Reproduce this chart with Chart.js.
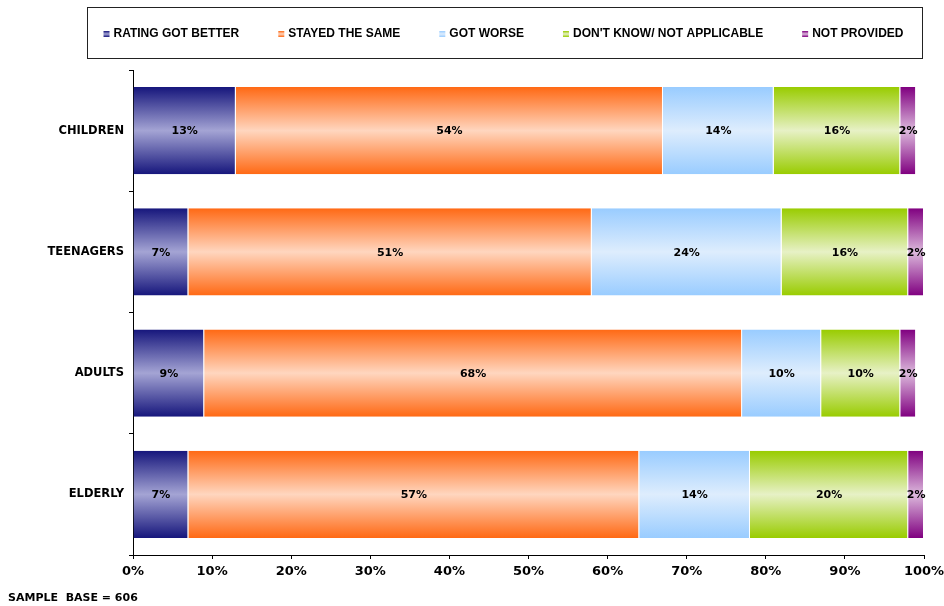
<!DOCTYPE html>
<html>
<head>
<meta charset="utf-8">
<script src="https://cdn.jsdelivr.net/npm/chart.js@4/dist/chart.umd.min.js"></script>
<style>
	body{margin:0;background:#fff;}
	#wrap{width:944px;height:606px;}
</style>
</head>
<body>
<div id="wrap"><canvas id="chart" width="944" height="606"></canvas></div>
<script>
// values (percent of respondents)
const categories = ['CHILDREN','TEENAGERS','ADULTS','ELDERLY'];
const seriesNames = ['RATING GOT BETTER','STAYED THE SAME','GOT WORSE',"DON'T KNOW/ NOT APPLICABLE",'NOT PROVIDED'];
const gotBetter = [13,7,9,7];
const stayedSame = [54,51,68,57];
const gotWorse = [14,24,10,14];
const dontKnow = [16,16,10,20];
const notProvided = [2,2,2,2];
const xTickValues = [0,10,20,30,40,50,60,70,80,90,100];

// dark edge / light middle pairs
const shades = [
	['#16167c','#a4a4d4'],
	['#ff6914','#ffd6bf'],
	['#99ccff','#deedfd'],
	['#99cc00','#e7f1c6'],
	['#800080','#dcb9dc']
];
const BAR_PCT = 0.72;

function shaded(i){
	return function(ctx){
		const chart = ctx.chart;
		const y = chart.scales.y;
		if(!y || ctx.dataIndex === undefined) return shades[i][0];
		const c = y.getPixelForValue(ctx.dataIndex);
		const h = (y.height / categories.length) * BAR_PCT;
		if(!isFinite(c) || !isFinite(h) || h <= 0) return shades[i][0];
		const g = chart.ctx.createLinearGradient(0, c - h/2, 0, c + h/2);
		g.addColorStop(0, shades[i][0]);
		g.addColorStop(0.5, shades[i][1]);
		g.addColorStop(1, shades[i][0]);
		return g;
	};
}

const values = [gotBetter, stayedSame, gotWorse, dontKnow, notProvided];

const labelPlugin = {
	id:'segLabels',
	afterDatasetsDraw(chart){
		const ctx = chart.ctx;
		ctx.save();
		ctx.font = 'bold 11px "DejaVu Sans"';
		ctx.fillStyle = '#000';
		ctx.textAlign = 'center';
		ctx.textBaseline = 'middle';
		chart.data.datasets.forEach((ds, di) => {
			chart.getDatasetMeta(di).data.forEach((el, i) => {
				const p = el.getCenterPoint();
				ctx.fillText(ds.data[i] + '%', p.x, p.y + 1);
			});
		});
		ctx.restore();
	}
};

const legendPlugin = {
	id:'boxLegend',
	afterDraw(chart){
		const ctx = chart.ctx;
		ctx.save();
		ctx.strokeStyle = '#222';
		ctx.lineWidth = 1;
		ctx.strokeRect(87.5, 7.5, 835, 51);
		ctx.font = 'bold 12px "Liberation Sans"';
		ctx.textBaseline = 'middle';
		const box = 6, gap = 4, spacing = 39;
		const widths = seriesNames.map(s => box + gap + ctx.measureText(s).width);
		const total = widths.reduce((a,b) => a+b, 0) + spacing*(widths.length-1);
		let x = 503.5 - total/2;
		const cy = 34;
		seriesNames.forEach((s, i) => {
			const g = ctx.createLinearGradient(0, cy-3, 0, cy+3);
			g.addColorStop(0, shades[i][0]);
			g.addColorStop(0.5, shades[i][1]);
			g.addColorStop(1, shades[i][0]);
			ctx.fillStyle = g;
			ctx.fillRect(x, cy-3, box, box);
			ctx.fillStyle = '#000';
			ctx.fillText(s, x + box + gap, cy);
			x += widths[i] + spacing;
		});
		ctx.font = 'bold 11px "DejaVu Sans"';
		ctx.fillText('SAMPLE  BASE = 606', 8, 598);
		ctx.restore();
	}
};

new Chart(document.getElementById('chart'), {
	type:'bar',
	data:{
		labels:categories,
		datasets: seriesNames.map((name, i) => ({
			label:name,
			data:values[i],
			backgroundColor:shaded(i),
			borderColor:'#fff',
			borderWidth:{left:0,right:1,top:0,bottom:0},
			borderSkipped:false,
			barPercentage:BAR_PCT,
			categoryPercentage:1
		}))
	},
	options:{
		indexAxis:'y',
		responsive:false,
		animation:false,
		layout:{padding:{top:70,right:20,left:0,bottom:0}},
		plugins:{
			legend:{display:false},
			tooltip:{enabled:false}
		},
		scales:{
			x:{
				stacked:true,
				min:0,
				max:100,
				afterBuildTicks(scale){ scale.ticks = xTickValues.map(v => ({value:v})); },
				afterFit(scale){ scale.height = 51; scale.paddingLeft = 0; scale.paddingRight = 0; },
				grid:{drawOnChartArea:false,drawTicks:true,tickLength:4,color:'#000'},
				border:{color:'#000',width:1},
				ticks:{
					padding:5,
					color:'#000',
					font:{family:'DejaVu Sans',weight:'bold',size:13},
					callback:v => v + '%'
				}
			},
			y:{
				stacked:true,
				afterFit(scale){ scale.width = 133; },
				grid:{drawOnChartArea:false,drawTicks:true,tickLength:4,color:'#000'},
				border:{color:'#000',width:1},
				ticks:{
					padding:5,
					color:'#000',
					font:{family:'DejaVu Sans',weight:'bold',size:11.5}
				}
			}
		}
	},
	plugins:[labelPlugin, legendPlugin]
});
</script>
</body>
</html>
